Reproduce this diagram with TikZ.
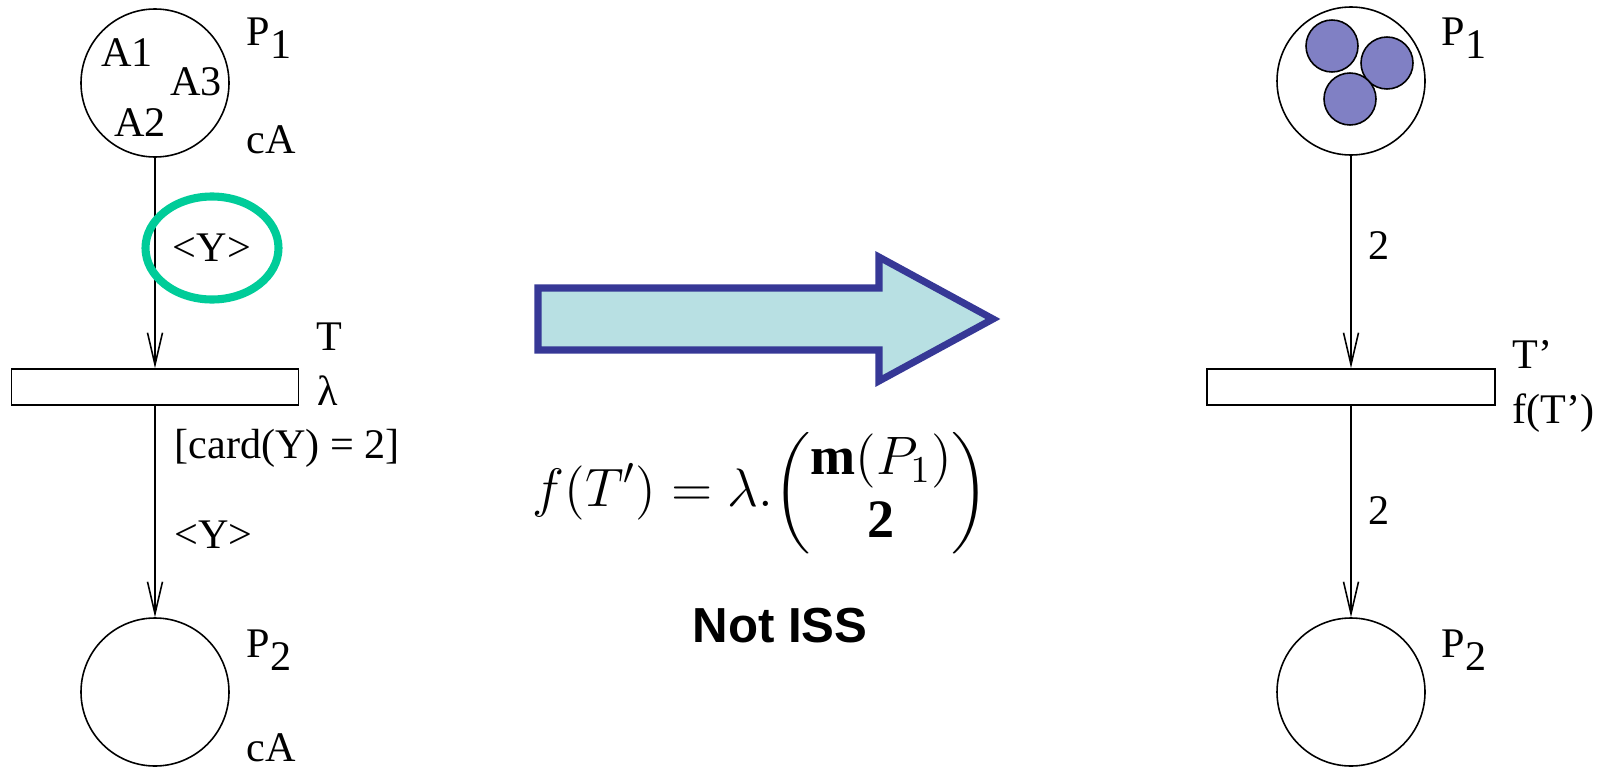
\documentclass[tikz,border=0pt]{standalone}
\usepackage{fix-cm}
\usepackage{amsmath}
\usepackage{fontspec}
\setmainfont{Liberation Serif}
\setsansfont{Liberation Sans}
\usetikzlibrary{arrows.meta,shapes.geometric}
\definecolor{verdeY}{RGB}{0,204,153}
\definecolor{flechaFondo}{RGB}{184,224,227}
\definecolor{flechaBorde}{RGB}{54,56,150}
\definecolor{ficha}{RGB}{128,128,196}

\begin{document}
\begin{tikzpicture}[font=\fontsize{12}{14}\selectfont,
    plaza/.style={draw, circle, minimum size=1.48cm, inner sep=0pt, line width=0.45pt},
    trans/.style={draw, rectangle, minimum width=2.87cm, minimum height=0.36cm, inner sep=0pt, line width=0.45pt},
    arco/.style={-{Straight Barb[length=3.2mm,width=1.5mm]}, line width=0.45pt},
    etq/.style={anchor=base west, inner sep=0pt},
    fichaC/.style={draw, circle, fill=ficha, minimum size=0.52cm, inner sep=0pt, line width=0.45pt}]
    \useasboundingbox (0,0) rectangle (16.05,7.67);

    % Red original (izquierda)
    \node[plaza] (p1) at (1.55,6.84) {};
    \node (a1) at (1.27,7.14) {A1};
    \node (a3) at (1.96,6.85) {A3};
    \node (a2) at (1.40,6.44) {A2};
    \node[etq] (p1lab) at (2.46,7.22) {P\raisebox{-0.33em}{1}};
    \node[etq] (p1col) at (2.46,6.14) {cA};

    \node[trans] (t) at (1.55,3.80) {};
    \node[etq] (tlab) at (3.16,4.17) {T};
    \node[etq] (tlam) at (3.17,3.62) {λ};

    \node[plaza] (p2) at (1.55,0.75) {};
    \node[etq] (p2lab) at (2.46,1.10) {P\raisebox{-0.33em}{2}};
    \node[etq] (p2col) at (2.46,0.06) {cA};

    % Arcos
    \draw[arco] (p1.south) -- (t.north);
    \draw[arco] (t.south) -- (p2.north);
    \node[ellipse, draw=verdeY, line width=2.3pt, minimum width=1.33cm, minimum height=1.03cm, inner sep=0pt] (y1) at (2.12,5.19) {<Y>};
    \node[etq] (guarda) at (1.74,3.09) {[card(Y) = 2]};
    \node[etq] (y2) at (1.74,2.19) {<Y>};

    % Flecha de transformacion
    \filldraw[fill=flechaFondo, draw=flechaBorde, line width=2pt, line join=miter]
        (5.38,4.79) -- (8.79,4.79) -- (8.79,5.10) -- (9.93,4.48) -- (8.79,3.86) -- (8.79,4.17) -- (5.38,4.17) -- cycle;
    \node (formula) at (7.61,2.74) {\fontsize{15.4}{18}\selectfont
        $\displaystyle f(T') = \lambda.\!\left(\begin{matrix}\mathbf{m}(P_1)\\ \mathbf{2}\end{matrix}\right)$};
    \node[anchor=base, font=\sffamily\bfseries\fontsize{14}{17}\selectfont] (niss) at (7.80,1.25) {Not ISS};

    % Red agregada (derecha)
    \node[plaza] (p1r) at (13.51,6.86) {};
    \node[fichaC] (f1) at (13.32,7.21) {};
    \node[fichaC] (f2) at (13.87,7.04) {};
    \node[fichaC] (f3) at (13.50,6.68) {};
    \node[etq] (p1rlab) at (14.41,7.22) {P\raisebox{-0.33em}{1}};

    \node[trans, minimum width=2.88cm] (tr) at (13.51,3.80) {};
    \node[etq] (trlab) at (15.12,3.99) {T’};
    \node[etq] (trf) at (15.12,3.44) {f(T’)};

    \node[plaza] (p2r) at (13.51,0.75) {};
    \node[etq] (p2rlab) at (14.41,1.10) {P\raisebox{-0.33em}{2}};

    \draw[arco] (p1r.south) -- (tr.north) node[etq, pos=0.49, xshift=0.17cm] (w1) {2};
    \draw[arco] (tr.south) -- (p2r.north) node[etq, pos=0.56, xshift=0.17cm] (w2) {2};
\end{tikzpicture}
\end{document}
